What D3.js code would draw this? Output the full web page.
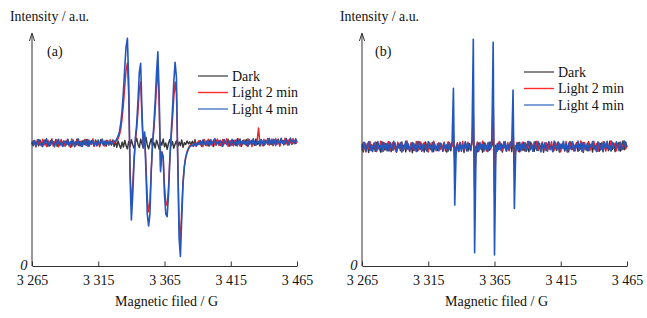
<!DOCTYPE html>
<html><head><meta charset="utf-8">
<script src="https://cdn.jsdelivr.net/npm/d3@7"></script>
<style>
html,body{margin:0;padding:0;background:#fff;}
svg{display:block;}
text{font-family:"Liberation Serif","Times New Roman",serif;fill:#111;}
</style></head><body>
<svg id="chart" width="647" height="318"></svg>
<script>
// Magnetic field sampling (G)
const fieldStart = 3265, fieldStep = 1;
const tickFields = [3265, 3315, 3365, 3415, 3465];
const seriesNames = ["Dark", "Light 2 min", "Light 4 min"];
const panelLabels = ["(a)", "(b)"];

// Panel (a) intensities (a.u.), one value per field step 3265..3465
const darkA = [
52.3,51.1,53.0,51.7,52.6,50.9,53.4,52.0,51.3,52.8,
53.5,51.0,52.2,50.8,53.1,51.9,52.7,51.4,53.6,50.7,
52.5,51.8,53.2,52.1,50.9,52.9,51.5,53.7,51.2,52.4,
50.6,53.3,52.0,51.6,53.8,51.1,52.7,50.8,53.0,52.2,
51.4,53.5,50.9,52.6,51.7,53.1,52.3,50.7,53.4,51.8,
52.5,51.0,53.6,52.1,51.3,52.8,50.8,53.2,51.9,52.4,
51.2,53.4,50.6,52.9,50.3,53.0,51.1,49.8,52.5,50.4,
53.2,51.0,49.6,52.8,50.7,53.5,51.4,49.9,52.3,54.2,
51.5,50.2,53.7,51.8,50.1,52.6,54.6,51.3,49.7,52.0,
53.9,50.8,52.4,50.0,53.3,51.6,49.5,52.7,51.2,53.8,
50.5,52.1,49.4,51.9,53.6,50.9,52.8,49.9,51.7,53.1,
50.6,52.5,51.0,53.4,50.3,52.2,51.5,53.0,51.8,52.6,
51.4,
52.9,51.3,53.5,50.8,52.4,51.9,53.1,50.7,52.7,53.6,
51.2,52.0,50.9,53.3,51.7,52.6,50.6,53.8,51.5,52.2,
53.0,51.1,52.8,50.9,53.4,52.1,51.6,53.7,50.8,52.5,
51.3,53.2,52.0,51.0,53.9,51.8,52.3,50.7,53.1,52.6,
51.4,53.6,50.9,52.7,51.9,53.3,52.2,51.1,53.8,51.6,
52.4,50.8,53.5,52.0,51.2,53.0,52.8,51.5,54.0,51.7,
52.9,51.0,53.4,52.3,51.8,53.7,50.9,52.6,53.2,51.4,
52.1,53.9,51.3,52.7,53.5,51.6,52.4,53.0,51.9,52.8
];
const light2A = [
51.5,53.1,52.2,50.4,53.5,51.8,52.6,50.9,53.7,51.2,
52.9,50.6,53.3,52.0,51.4,53.9,50.8,52.7,51.9,53.4,
50.5,52.3,53.6,51.0,52.8,50.7,53.2,51.6,52.4,50.3,
53.8,51.7,52.1,50.8,53.5,52.6,51.1,53.0,50.6,52.5,
53.7,51.3,50.9,53.4,52.2,51.5,53.9,50.7,52.8,51.8,
53.1,50.5,52.4,53.6,51.9,50.8,53.3,52.0,51.2,53.5,
52.0,52.6,51.9,52.8,53.1,54.0,55.5,58.0,62.5,68.5,
76.0,83.0,86.0,72.0,41.0,26.0,34.0,45.0,53.0,58.0,
65.5,75.0,78.0,62.0,50.5,55.5,43.0,29.0,23.0,27.0,
41.0,52.0,58.0,66.0,76.0,84.0,68.0,42.0,48.5,46.5,
34.0,27.0,25.5,33.0,45.0,54.0,62.0,71.0,78.0,73.0,
46.0,19.0,11.0,24.0,36.0,42.5,46.0,48.5,49.8,51.0,
51.5,
50.9,51.6,52.3,50.7,51.9,53.2,51.4,52.8,50.6,53.5,
52.1,51.0,53.7,51.8,52.5,50.9,53.4,51.3,52.9,53.8,
51.1,52.4,50.8,53.6,51.7,52.2,53.9,50.7,52.6,53.1,
51.5,50.9,53.3,52.0,51.2,53.8,50.8,52.7,51.4,53.5,
52.3,51.0,53.9,51.6,52.8,50.6,53.2,52.1,51.3,53.6,
58.5,51.8,52.4,50.9,53.7,51.5,52.9,54.1,51.2,52.6,
53.8,51.1,52.2,54.0,51.7,53.0,50.8,53.4,52.5,51.9,
54.2,52.0,51.4,53.6,52.8,51.6,54.0,52.3,53.1,52.0
];
const light4A = [
52.8,51.0,53.2,50.9,52.4,53.6,51.3,52.0,50.6,53.1,
51.7,53.9,50.8,52.5,51.2,53.4,52.1,50.5,52.9,51.6,
53.7,51.1,52.3,50.7,53.0,52.2,51.4,53.5,50.9,52.6,
51.8,53.3,50.6,52.7,51.5,53.8,51.0,52.4,50.8,53.2,
52.0,51.3,53.6,50.7,52.8,51.9,53.1,51.2,52.5,50.9,
53.4,51.6,52.2,53.7,51.1,52.9,51.7,53.0,51.4,52.6,
52.5,51.8,52.9,53.0,53.8,55.0,57.0,60.5,66.0,74.0,
84.0,93.0,96.5,78.0,38.0,19.5,30.0,44.0,54.0,60.0,
70.0,82.0,85.9,66.0,50.0,56.8,40.0,22.0,17.0,22.0,
40.0,52.0,60.0,70.0,82.0,90.8,72.0,40.0,48.0,46.0,
30.0,22.0,20.9,30.0,45.0,56.0,66.0,78.0,86.3,80.0,
45.0,12.0,4.0,20.0,35.0,42.0,46.0,48.0,49.5,50.5,
51.0,
51.2,50.8,51.9,51.0,52.3,51.5,52.6,51.1,53.4,52.0,
51.3,53.0,52.7,50.9,53.5,51.8,52.4,53.9,51.2,52.8,
51.6,53.3,52.1,50.8,53.6,52.5,51.4,53.1,52.9,51.0,
53.7,52.2,51.5,53.4,50.9,52.7,53.8,51.3,52.6,51.9,
53.2,52.0,50.7,53.5,52.4,51.6,53.9,52.1,51.2,53.0,
52.8,51.4,53.6,52.3,51.0,53.3,52.7,51.8,54.0,52.2,
51.5,53.7,52.9,51.1,53.4,52.6,51.9,54.1,52.0,53.1,
51.7,53.8,52.5,51.3,54.2,52.8,53.0,51.8,53.9,52.7
];

// Panel (b) intensities (a.u.)
const darkB = [
50.9,48.4,52.0,49.5,51.6,48.1,52.5,50.3,49.0,51.8,
48.6,52.3,49.8,51.1,48.3,52.7,50.5,49.2,51.9,48.8,
50.7,52.4,48.5,51.3,49.7,52.1,48.2,50.9,51.7,48.9,
52.6,49.4,51.0,48.4,52.2,50.1,49.6,51.5,48.0,52.0,
49.9,51.4,48.7,52.8,50.6,49.1,51.2,48.3,52.5,50.0,
48.8,51.9,49.3,52.3,48.5,51.0,50.4,48.9,52.1,49.6,
51.5,48.6,52.2,49.9,48.3,51.7,50.2,48.8,52.4,53.0,
47.0,50.6,51.8,48.5,52.0,49.4,51.3,48.1,52.6,50.0,
48.7,51.9,49.2,52.7,54.5,45.0,50.8,48.4,52.1,49.6,
51.4,48.2,52.5,50.3,48.9,51.6,49.0,52.3,50.7,54.8,
44.8,51.2,48.6,52.0,49.5,51.8,48.3,52.4,50.1,48.8,
51.7,49.3,52.6,48.5,53.2,47.2,51.0,49.7,52.2,48.4,
51.5,
49.2,52.3,48.7,51.6,50.0,48.4,52.5,49.8,51.1,48.6,
52.7,50.4,48.9,51.9,49.3,52.2,48.2,50.8,51.7,48.8,
52.4,49.6,51.3,48.5,52.0,50.2,49.0,52.6,48.3,51.5,
49.9,52.1,48.7,51.0,50.5,48.4,52.8,49.4,51.8,48.9,
50.6,52.3,48.6,51.4,49.7,52.5,48.1,51.2,50.3,48.8,
52.7,49.5,51.6,48.3,52.2,50.0,49.1,52.4,48.6,51.9,
50.7,48.4,52.6,49.2,51.3,48.9,52.9,50.1,49.4,52.0,
48.5,51.7,50.8,52.4,48.7,51.1,53.0,49.3,52.6,50.4
];
const light2B = [
49.0,52.4,50.5,48.3,51.9,49.7,52.8,48.9,51.2,50.0,
52.6,48.5,51.5,49.3,52.9,50.8,48.6,52.1,49.8,51.4,
52.7,48.8,50.9,52.3,49.1,51.8,48.4,52.5,50.6,49.5,
52.0,48.7,51.3,49.9,53.0,50.2,48.5,52.2,49.6,51.7,
48.9,52.8,50.4,49.2,52.6,48.6,51.0,52.4,49.4,50.9,
48.3,52.3,50.7,49.0,52.9,51.6,48.8,50.5,52.1,49.3,
51.8,49.2,52.5,48.7,50.9,52.7,49.5,51.4,50.6,56.0,
43.0,49.8,52.3,48.6,51.2,50.0,52.8,49.1,51.6,48.9,
52.4,50.3,48.8,51.9,66.0,32.0,49.4,52.6,48.5,51.3,
50.1,52.9,49.0,51.7,48.7,52.2,50.5,49.3,52.0,71.6,
31.0,50.2,48.6,52.5,49.7,51.1,48.9,52.7,50.4,49.1,
52.3,48.8,51.5,50.7,58.5,43.0,49.6,52.4,48.5,51.8,
50.0,
52.5,49.0,51.3,48.6,52.8,50.2,49.5,52.1,48.8,51.7,
50.4,52.9,49.2,51.0,48.5,52.6,50.8,49.3,52.3,48.7,
51.5,50.0,52.7,49.6,48.9,52.4,51.1,49.8,52.0,48.4,
51.9,50.6,49.1,52.8,48.6,51.4,50.3,52.5,49.4,51.2,
48.8,52.2,50.7,49.0,53.0,51.6,48.5,52.3,50.1,49.7,
52.6,48.9,51.3,50.5,52.9,49.2,51.8,48.6,52.1,50.0,
49.5,52.7,51.0,48.7,52.4,50.4,49.3,53.1,51.5,49.9,
52.0,48.8,51.7,50.6,52.5,49.1,51.2,52.8,49.6,51.0
];
const light4B = [
51.8,49.2,52.3,48.7,50.9,52.6,49.0,51.4,48.5,52.1,
50.2,48.9,52.7,49.6,51.0,48.4,52.4,50.6,49.3,51.9,
48.8,52.5,50.0,49.1,52.8,50.7,48.6,51.6,49.9,52.2,
48.3,51.2,50.4,52.9,49.4,51.7,48.7,50.8,52.3,49.0,
51.5,48.5,52.6,50.1,49.5,52.0,48.9,51.3,50.5,48.6,
52.7,49.8,51.1,48.4,52.4,50.3,49.2,51.8,48.8,52.1,
50.6,48.9,52.0,49.4,51.3,48.7,52.2,50.1,52.8,75.3,
25.8,47.5,51.6,49.0,52.4,48.6,51.1,49.7,52.6,48.8,
51.9,50.2,49.1,53.5,96.1,5.6,46.5,51.7,48.9,52.3,
49.5,51.4,48.7,52.0,50.3,48.5,52.5,49.8,53.8,94.8,
4.7,47.0,51.8,49.3,52.6,48.9,51.2,50.0,52.7,48.6,
51.5,49.4,52.1,51.0,74.6,24.4,48.2,51.9,49.1,52.4,
48.8,
51.6,49.5,52.3,48.7,50.9,52.8,49.2,51.4,48.6,52.5,
50.3,49.0,52.7,50.8,48.4,51.9,49.7,52.2,48.9,51.1,
52.6,49.3,50.7,48.5,52.9,50.1,49.6,52.4,48.8,51.5,
50.0,52.8,49.1,51.7,48.3,52.1,50.5,49.4,52.6,48.7,
51.3,50.2,52.9,49.0,51.8,48.6,52.3,50.6,49.3,52.0,
48.9,51.6,50.4,52.7,49.5,51.0,48.5,52.5,50.8,49.2,
52.2,48.8,51.9,50.1,52.8,49.6,51.2,48.7,52.4,50.5,
49.8,52.6,51.0,48.9,52.3,50.3,49.4,52.9,51.1,50.7
];

const panelSeries = [[darkA, light2A, light4A], [darkB, light2B, light4B]];

// ---------- drawing ----------
const svg = d3.select("#chart");
const traceColors = ["#363636", "#e8232b", "#2257bd"];
const legendColors = ["#555555", "#ff2a2a", "#4a78c8"];
const fmt = d3.formatLocale({decimal: ".", thousands: " ", grouping: [3], currency: ["", ""]}).format(",");

const panels = [
  {left: 32, right: 297, legX: 198, legY: 76, labX: 47, titleX: 10, zeroX: 27.5},
  {left: 362, right: 627, legX: 524, legY: 72, labX: 375, titleX: 340, zeroX: 357.5}
];

panels.forEach((p, pi) => {
  const x = d3.scaleLinear().domain([tickFields[0], tickFields[tickFields.length - 1]]).range([p.left, p.right]);
  const y = d3.scaleLinear().domain([0, 100]).range([266, 30]);
  const g = svg.append("g");

  const line = d3.line()
    .x((d, i) => x(fieldStart + i * fieldStep))
    .y(d => y(d));
  panelSeries[pi].forEach((vals, si) => {
    g.append("path")
      .attr("d", line(vals))
      .attr("fill", "none")
      .attr("stroke", traceColors[si])
      .attr("stroke-width", si === 2 ? 1.6 : 1.45)
      .attr("stroke-linejoin", "round");
  });

  // x axis
  const xAxis = d3.axisBottom(x)
    .tickValues(tickFields)
    .tickFormat(fmt)
    .tickSize(-4.5)
    .tickSizeOuter(0)
    .tickPadding(9.5);
  const ax = g.append("g").attr("transform", `translate(0,${y(0)})`).call(xAxis);
  ax.select(".domain").attr("stroke", "#333").attr("stroke-width", 1);
  ax.selectAll(".tick line").attr("stroke", "#333").attr("stroke-width", 1);
  ax.selectAll(".tick text")
    .attr("font-family", '"Liberation Serif","Times New Roman",serif')
    .attr("font-size", 14)
    .attr("fill", "#111");

  // y axis with arrow (no ticks)
  const yAxis = d3.axisLeft(y).tickValues([]).tickSizeOuter(0);
  const ay = g.append("g").attr("transform", `translate(${p.left},0)`).call(yAxis);
  ay.select(".domain").attr("stroke", "#333").attr("stroke-width", 1)
    .attr("d", `M0,${y(0)}V${y(0) - 232}`);
  g.append("path")
    .attr("d", `M${p.left - 2.6},${y(0) - 225}L${p.left},${y(0) - 233}L${p.left + 2.6},${y(0) - 225}`)
    .attr("fill", "none").attr("stroke", "#333").attr("stroke-width", 1);

  // origin label
  g.append("text").attr("x", p.zeroX).attr("y", 269.5)
    .attr("text-anchor", "end").attr("font-style", "italic").attr("font-size", 14.5)
    .text("0");

  // axis titles
  g.append("text").attr("x", p.titleX).attr("y", 21).attr("font-size", 14)
    .attr("textLength", 79).attr("lengthAdjust", "spacingAndGlyphs")
    .text("Intensity / a.u.");
  g.append("text").attr("x", (p.left + p.right) / 2 + 2).attr("y", 306).attr("font-size", 14)
    .attr("text-anchor", "middle").text("Magnetic filed / G");

  // panel label
  g.append("text").attr("x", p.labX).attr("y", 56).attr("font-size", 14).text(panelLabels[pi]);

  // legend
  seriesNames.forEach((name, si) => {
    const ly = p.legY + si * 16.5;
    g.append("line").attr("x1", p.legX).attr("x2", p.legX + 30)
      .attr("y1", ly).attr("y2", ly)
      .attr("stroke", legendColors[si]).attr("stroke-width", 1.4);
    g.append("text").attr("x", p.legX + 34).attr("y", ly + 4.8)
      .attr("font-size", 14).text(name);
  });
});
</script>
</body></html>
